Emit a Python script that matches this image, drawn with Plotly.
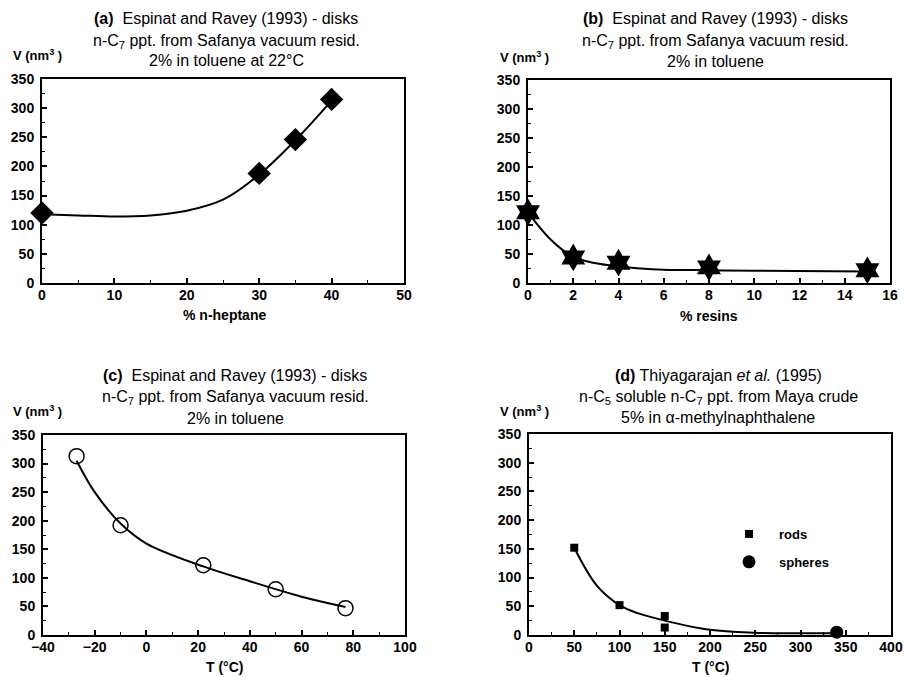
import plotly.graph_objects as go

# ---------------- data ----------------
# (a) V vs % n-heptane
a_x = [0, 30, 35, 40]
a_y = [120, 188, 246, 315]
a_fit_x = [0, 5, 10, 15, 20, 25, 30, 35, 40]
a_fit_y = [118, 116, 114, 116, 124, 143, 186, 245, 313]

# (b) V vs % resins
b_x = [0, 2, 4, 8, 15]
b_y = [122, 44, 35, 27, 22]
b_fit_x = [0, 1, 2, 3, 4, 5, 6, 8, 10, 15]
b_fit_y = [122, 75, 45, 34, 29, 25, 23, 22, 21, 20]

# (c) V vs T
c_x = [-27, -10, 22, 50, 77]
c_y = [313, 192, 122, 80, 47]
c_fit_x = [-27, -20, -10, 0, 22, 40, 60, 77]
c_fit_y = [305, 250, 195, 160, 120, 94, 67, 49]

# (d) V vs T
d_rods_x = [50, 100, 150, 150]
d_rods_y = [152, 52, 33, 13]
d_sph_x = [340]
d_sph_y = [5]
d_fit_x = [50, 75, 100, 120, 150, 200, 250, 300, 335]
d_fit_y = [152, 86, 52, 38, 25, 9, 4, 3, 3]

FONT = "Liberation Sans, Arial, sans-serif"
BLACK = "#000000"

fig = go.Figure()

def add_fit(x, y, xa, ya):
    fig.add_trace(go.Scatter(x=x, y=y, mode="lines", line=dict(color=BLACK, width=2, shape="spline", smoothing=1.0),
                             xaxis=xa, yaxis=ya, showlegend=False, hoverinfo="skip"))

# (a)
add_fit(a_fit_x, a_fit_y, "x", "y")
fig.add_trace(go.Scatter(x=a_x, y=a_y, mode="markers", marker=dict(symbol="diamond", size=18, color=BLACK),
                         xaxis="x", yaxis="y", showlegend=False, cliponaxis=False))
# (b)
add_fit(b_fit_x, b_fit_y, "x2", "y2")
fig.add_trace(go.Scatter(x=b_x, y=b_y, mode="markers", marker=dict(symbol="hexagram", size=21, color=BLACK),
                         xaxis="x2", yaxis="y2", showlegend=False, cliponaxis=False))
# (c)
add_fit(c_fit_x, c_fit_y, "x3", "y3")
fig.add_trace(go.Scatter(x=c_x, y=c_y, mode="markers",
                         marker=dict(symbol="circle-open", size=15, color=BLACK, line=dict(width=1.5, color=BLACK)),
                         xaxis="x3", yaxis="y3", showlegend=False, cliponaxis=False))
# (d)
add_fit(d_fit_x, d_fit_y, "x4", "y4")
fig.add_trace(go.Scatter(x=d_rods_x, y=d_rods_y, mode="markers", name="rods", legendgroup="rods",
                         marker=dict(symbol="square", size=8, color=BLACK),
                         xaxis="x4", yaxis="y4", showlegend=True, cliponaxis=False))
fig.add_trace(go.Scatter(x=d_sph_x, y=d_sph_y, mode="markers", name="spheres", legendgroup="sph",
                         marker=dict(symbol="circle", size=13, color=BLACK),
                         xaxis="x4", yaxis="y4", showlegend=True, cliponaxis=False))

W, H = 904, 677
def px(v):
    return v / W
def py(v):
    return 1 - v / H

tickfont = dict(family=FONT, size=14, color=BLACK, weight="bold")

def axis(domain, rng, dtick, anchor, minor_dtick, standoff):
    return dict(domain=domain, range=rng, dtick=dtick, tick0=rng[0], anchor=anchor,
                showline=True, linecolor=BLACK, linewidth=2, mirror=True,
                ticks="inside", ticklen=5, tickwidth=1.5, tickcolor=BLACK,
                minor=dict(ticks="inside", ticklen=3, tickwidth=1, tickcolor=BLACK, dtick=minor_dtick),
                showgrid=False, zeroline=False, tickfont=tickfont, fixedrange=True,
                automargin=False, ticklabeloverflow="allow", ticklabelstandoff=standoff)

layout = dict(
    width=W, height=H, margin=dict(l=0, r=0, t=0, b=0, pad=0, autoexpand=False),
    paper_bgcolor="white", plot_bgcolor="white",
    font=dict(family=FONT, color=BLACK),
    xaxis=axis([px(42), px(404)], [0, 50], 10, "y", 5, -2),
    yaxis=axis([py(283), py(79)], [0, 350], 50, "x", 25, 3),
    xaxis2=axis([px(528), px(890)], [0, 16], 2, "y2", 1, -2),
    yaxis2=axis([py(283), py(80)], [0, 350], 50, "x2", 25, 3),
    xaxis3=axis([px(43), px(405)], [-40, 100], 20, "y3", 10, -2),
    yaxis3=axis([py(635), py(435)], [0, 350], 50, "x3", 25, 3),
    xaxis4=axis([px(529), px(891)], [0, 400], 50, "y4", 25, -2),
    yaxis4=axis([py(635), py(434)], [0, 350], 50, "x4", 25, 3),
    legend=dict(x=px(719), y=py(519), xanchor="left", yanchor="top",
                font=dict(family=FONT, size=13, color=BLACK, weight="bold"),
                bgcolor="rgba(0,0,0,0)", tracegroupgap=8, itemwidth=50),
)
fig.update_layout(**layout)

annotations = []
def title(cx, ys, lines):
    for yy, t in zip(ys, lines):
        annotations.append(dict(x=px(cx), y=py(yy), xref="paper", yref="paper", text=t, showarrow=False,
                                xanchor="center", yanchor="middle", font=dict(family=FONT, size=16, color=BLACK)))

sub7 = "n-C<sub>7</sub>"
title(226, [19, 41, 61], ["<b>(a)</b>  Espinat and Ravey (1993) - disks",
                           sub7 + " ppt. from Safanya vacuum resid.", "2% in toluene at 22°C"])
title(715, [19, 41, 62], ["<b>(b)</b>  Espinat and Ravey (1993) - disks",
                           sub7 + " ppt. from Safanya vacuum resid.", "2% in toluene"])
title(235, [375, 397, 418], ["<b>(c)</b>  Espinat and Ravey (1993) - disks",
                             sub7 + " ppt. from Safanya vacuum resid.", "2% in toluene"])
title(718, [375, 397, 417], ["<b>(d)</b> Thiyagarajan <i>et al.</i> (1995)",
                             "n-C<sub>5</sub> soluble " + sub7 + " ppt. from Maya crude",
                             "5% in α-methylnaphthalene"])

def vlabel(x0, yy):
    annotations.append(dict(x=px(x0), y=py(yy), xref="paper", yref="paper", text="<b>V (nm<sup>3</sup> )</b>",
                            showarrow=False, xanchor="left", yanchor="middle",
                            font=dict(family=FONT, size=13, color=BLACK)))
vlabel(11, 55)
vlabel(498, 57)
vlabel(11, 411)
vlabel(498, 411)

def xlabel(cx, yy, t):
    annotations.append(dict(x=px(cx), y=py(yy), xref="paper", yref="paper", text="<b>" + t + "</b>",
                            showarrow=False, xanchor="center", yanchor="middle",
                            font=dict(family=FONT, size=14, color=BLACK)))
xlabel(224, 315, "% n-heptane")
xlabel(709, 316, "% resins")
xlabel(224, 667, "T (°C)")
xlabel(710, 667, "T (°C)")

fig.update_layout(annotations=annotations)
fig.write_html("out.html", config={"displayModeBar": False},
               post_script="document.body.style.margin='0';document.body.style.overflow='hidden';")
